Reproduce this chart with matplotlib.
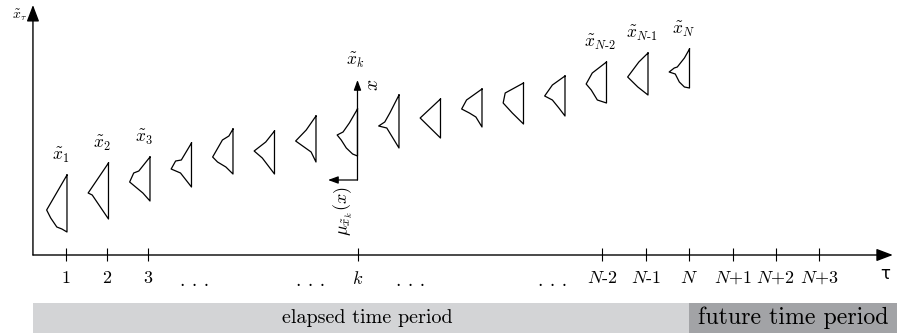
import matplotlib.pyplot as plt

plt.rcParams['mathtext.fontset'] = 'cm'

# one fuzzy observation per time step: membership profile drawn leftwards
taus = list(range(1, 17))
shape_values = [
    [8.0, 4.5, 3.7, 2.8, 2.6, 2.3],
    [9.2, 6.2, 6.0, 3.6],
    [9.8, 8.4, 8.2, 7.3, 6.2, 5.4],
    [11.2, 9.5, 9.4, 8.6, 8.2, 6.8],
    [12.6, 11.9, 11.5, 9.8, 9.3, 8.8, 8.1],
    [12.4, 11.3, 10.4, 9.7, 8.1],
    [13.9, 12.5, 11.4, 10.3, 9.3],
    [14.6, 13.2, 12.3, 12.0, 11.5, 10.7, 10.1, 9.9],
    [16.0, 14.2, 13.3, 12.9, 12.7, 10.7],
    [15.6, 13.7, 12.7, 11.7],
    [16.6, 15.7, 15.5, 14.6, 14.2, 13.8, 12.8],
    [17.2, 16.2, 15.2, 14.2, 13.1],
    [17.9, 17.0, 15.9, 15.5, 14.7, 13.9],
    [19.3, 18.2, 17.1, 16.5, 15.5, 15.2],
    [20.2, 19.3, 17.8, 16.8, 16.0],
    [20.6, 19.7, 18.8, 18.7, 18.3, 18.1, 17.3, 16.8, 16.7],
]
shape_mu = [
    [0, 1, 0.8, 0.5, 0.25, 0],
    [0, 1, 0.8, 0],
    [0, 0.55, 0.8, 1, 0.35, 0],
    [0, 0.5, 0.78, 1, 0.54, 0],
    [0, 0.2, 0.52, 1, 0.76, 0.35, 0],
    [0, 0.43, 1, 0.6, 0],
    [0, 0.48, 1, 0.24, 0],
    [0, 0.4, 0.71, 1, 0.8, 0.55, 0.24, 0],
    [0, 0.45, 0.7, 1, 0.6, 0],
    [0, 1, 0.5, 0],
    [0, 0.62, 0.76, 1, 0.62, 0.3, 0],
    [0, 0.9, 1, 0.55, 0],
    [0, 0.62, 1, 0.62, 0.3, 0],
    [0, 0.7, 1, 0.75, 0.45, 0],
    [0, 0.45, 1, 0.5, 0],
    [0, 0.25, 0.6, 0.75, 1, 0.7, 0.5, 0.25, 0],
]
shape_labels = {1: r'$\tilde{x}_1$', 2: r'$\tilde{x}_2$', 3: r'$\tilde{x}_3$',
                14: r'$\tilde{x}_{N\text{-}2}$', 15: r'$\tilde{x}_{N\text{-}1}$',
                16: r'$\tilde{x}_N$'}

# tick positions (not exactly on the integer steps)
tick_pos = [0.98, 1.96, 2.95, 8.01, 13.89, 14.95, 15.99, 17.05, 18.08, 19.12]
tick_labels = ['1', '2', '3', '$k$', '$N$-2', '$N$-1', '$N$', '$N$+1', '$N$+2', '$N$+3']
dots_pos = [4.08, 6.88, 9.27, 12.71]

period_names = ['elapsed time period', 'future time period']
period_start = [0.18, 15.99]
period_end = [15.99, 21.0]
period_colors = ['#d3d4d6', '#a2a3a6']
period_sizes = [14.5, 17.2]
period_text_x = [8.23, 18.5]

k_tau = 8
width = 0.49
serif = 'cmr10'

fig = plt.figure(figsize=(8.97, 3.33), dpi=100)
ax = fig.add_axes([0, 0, 1, 1])
ax.set_xlim(-0.614, 21.0)
ax.set_ylim(-7.8, 25.5)
ax.axis('off')

big_head = '-|>,head_length=1.0,head_width=0.38'
small_head = '-|>,head_length=0.6,head_width=0.22'

# main axes
ax.annotate('', xy=(20.9, 0), xytext=(0.18, 0),
            arrowprops=dict(arrowstyle=big_head, lw=1.0, color='k', shrinkA=0, shrinkB=0))
ax.annotate('', xy=(0.18, 25.0), xytext=(0.18, 0),
            arrowprops=dict(arrowstyle=big_head, lw=1.0, color='k', shrinkA=0, shrinkB=0))
ax.text(-0.13, 24.0, r'$\tilde{x}_\tau$', fontsize=10, ha='center', va='center')
ax.text(20.71, -1.9, 'τ', fontsize=12, ha='center', va='center', family='DejaVu Sans')

# ticks and labels
ax.vlines(tick_pos, -0.6, 0.7, color='k', lw=0.8)
for t, lab in zip(tick_pos, tick_labels):
    ax.text(t, -2.3, lab, fontsize=13, ha='center', va='center', family=serif)
for t in dots_pos:
    ax.text(t, -2.6, '. . .', fontsize=14, ha='center', va='center', family=serif)

# fuzzy observations
for t, vals, mus in zip(taus, shape_values, shape_mu):
    xs = [t - m * width for m in mus] + [t]
    ys = list(vals) + [vals[0]]
    ax.plot(xs, ys, color='k', lw=0.9)
    if t in shape_labels:
        ax.annotate(shape_labels[t], (t - 0.15, vals[0]), xytext=(0, 14),
                    textcoords='offset points', ha='center', va='center', fontsize=12.5)

# local membership axes at k
ax.annotate('', xy=(k_tau, 17.5), xytext=(k_tau, 7.5),
            arrowprops=dict(arrowstyle=small_head, lw=0.9, color='k', shrinkA=0, shrinkB=0))
ax.annotate('', xy=(7.29, 7.5), xytext=(k_tau, 7.5),
            arrowprops=dict(arrowstyle=small_head, lw=0.9, color='k', shrinkA=0, shrinkB=0))
ax.text(k_tau - 0.05, 19.5, r'$\tilde{x}_k$', fontsize=12.5, ha='center', va='center')
ax.text(8.37, 17.0, r'$x$', fontsize=14, ha='center', va='center', rotation=90)
ax.text(7.65, 4.4, r'$\mu_{\tilde{x}_k}(x)$', fontsize=13, ha='center', va='center', rotation=90)

# time period bar
ax.barh([-6.3] * 2, [e - s for s, e in zip(period_start, period_end)], left=period_start,
        height=3.0, color=period_colors, edgecolor='none')
for tx, name, size in zip(period_text_x, period_names, period_sizes):
    ax.text(tx, -6.3, name, fontsize=size, ha='center', va='center', family=serif)

fig.savefig('out.png', dpi=100)
